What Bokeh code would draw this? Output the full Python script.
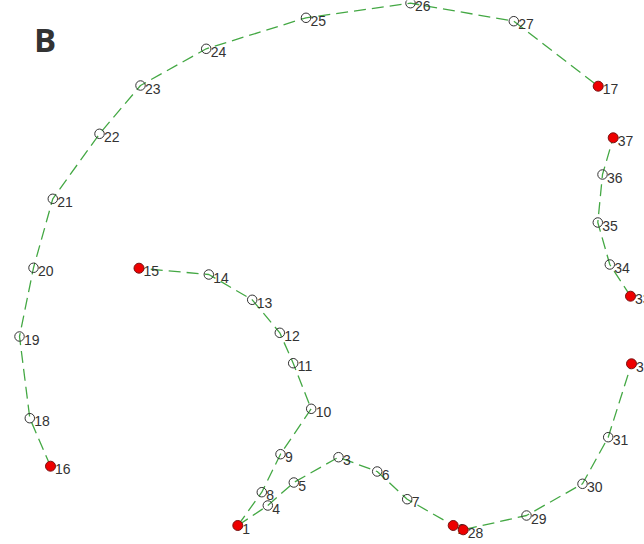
from bokeh.plotting import figure
from bokeh.models import Range1d, ColumnDataSource
from bokeh.embed import file_html
from bokeh.resources import INLINE
from bokeh.core.properties import value

# node ids and positions (image pixel coordinates, y downward)
node_id = [1, 2, 3, 4, 5, 6, 7, 8, 9, 10, 11, 12, 13, 14, 15, 16, 17, 18, 19,
           20, 21, 22, 23, 24, 25, 26, 27, 28, 29, 30, 31, 32, 33, 34, 35, 36, 37]
node_x = [237.3, 452.7, 338.0, 267.3, 293.3, 376.7, 406.7, 261.3, 280.0, 310.7,
          292.7, 279.3, 251.7, 208.3, 138.5, 50.0, 597.7, 29.3, 19.0,
          33.0, 52.3, 99.0, 140.0, 205.7, 305.5, 410.0, 513.3, 462.7, 526.0,
          582.0, 607.7, 631.0, 630.0, 609.3, 597.3, 602.0, 612.7]
node_y = [525.0, 525.0, 456.7, 505.0, 482.0, 471.0, 498.7, 491.7, 453.7, 408.3,
          362.7, 332.3, 299.3, 274.0, 267.7, 465.7, 85.7, 417.7, 336.0,
          267.3, 198.3, 133.3, 85.0, 48.3, 17.3, 2.7, 20.7, 529.3, 515.0,
          483.3, 436.7, 363.3, 295.7, 264.0, 222.0, 174.0, 137.3]
endpoint_ids = [1, 2, 15, 16, 17, 28, 32, 33, 37]

# paths (sequences of node ids)
paths = [
    [1, 4, 5, 3, 6, 7, 2, 28, 29, 30, 31, 32],
    [1, 8, 9, 10, 11, 12, 13, 14, 15],
    [16, 18, 19, 20, 21, 22, 23, 24, 25, 26, 27, 17],
    [33, 34, 35, 36, 37],
]
panel_label = "B"

pos = {i: (x, y) for i, x, y in zip(node_id, node_x, node_y)}

p = figure(width=644, height=544, output_backend="svg", toolbar_location=None,
           x_range=Range1d(0, 644), y_range=Range1d(544, 0),
           min_border=0, outline_line_color=None)
p.axis.visible = False
p.grid.visible = False
p.background_fill_color = "white"
p.border_fill_color = "white"

xs = [[pos[n][0] for n in path] for path in paths]
ys = [[pos[n][1] for n in path] for path in paths]
p.multi_line(xs, ys, line_color="#44a844", line_width=1.3, line_dash="12 6")

hollow = [i for i in node_id if i not in endpoint_ids]
src_h = ColumnDataSource(dict(x=[pos[i][0] for i in hollow], y=[pos[i][1] for i in hollow]))
p.scatter("x", "y", source=src_h, size=9.5, marker="circle", fill_alpha=0,
          line_color="#333333", line_width=1)

src_t = ColumnDataSource(dict(x=node_x, y=node_y, t=[str(i) for i in node_id]))
p.text("x", "y", text="t", source=src_t, x_offset=4.5, y_offset=3,
       text_font=value("Liberation Sans"), text_font_size="14px",
       text_color="#333333", text_baseline="middle", text_align="left")

src_r = ColumnDataSource(dict(x=[pos[i][0] for i in endpoint_ids], y=[pos[i][1] for i in endpoint_ids]))
p.scatter("x", "y", source=src_r, size=10, marker="circle", fill_color="#ee0000",
          line_color="#7a1010", line_width=1)

p.text(x=[33.5], y=[39], text=[panel_label], text_font=value("Open Sans"),
       text_font_style="bold", text_font_size="33px", text_color="#333333",
       text_baseline="alphabetic", text_align="left")

open("out.html", "w").write(file_html(p, INLINE))
